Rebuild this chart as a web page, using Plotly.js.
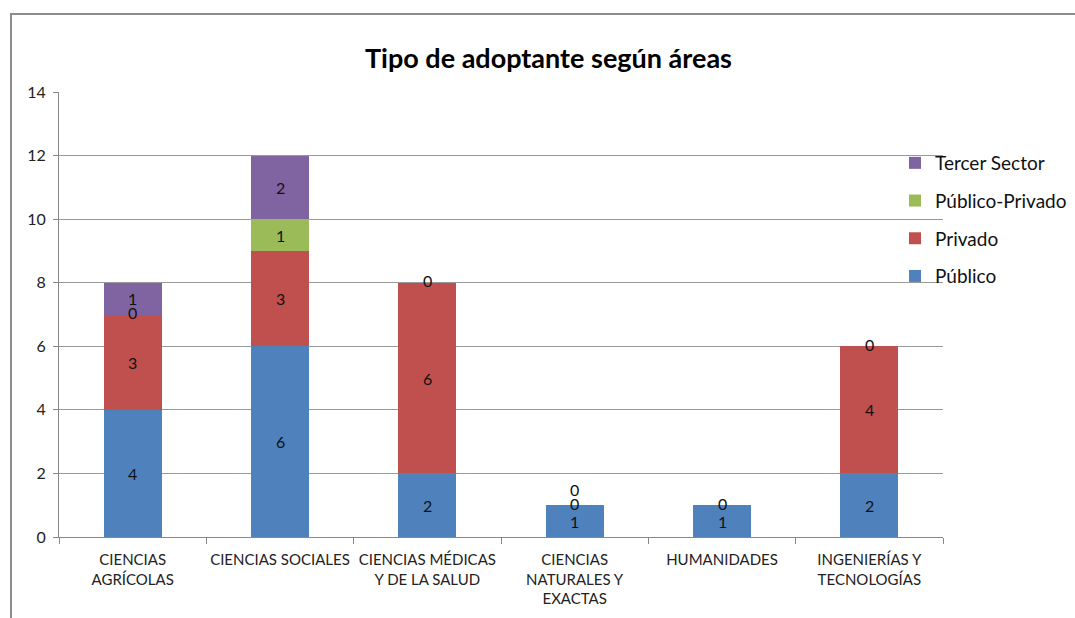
<!DOCTYPE html>
<html>
<head>
<meta charset="utf-8">
<script src="https://cdn.plot.ly/plotly-3.0.1.min.js"></script>
<style>
  html, body { margin: 0; padding: 0; background: #fff; }
  #wrap { position: relative; width: 1075px; height: 618px; }
  #chart { width: 1075px; height: 618px; }
  #frame { position: absolute; left: 10px; top: 13px; right: 0; bottom: 0;
           border-left: 2px solid #8c8c8c; border-top: 2px solid #8c8c8c; pointer-events: none; }
</style>
</head>
<body>
<div id="wrap"><div id="chart"></div><div id="frame"></div></div>
<script>
const categories = ["CIENCIAS<br>AGRÍCOLAS", "CIENCIAS SOCIALES", "CIENCIAS MÉDICAS<br>Y DE LA SALUD",
                    "CIENCIAS<br>NATURALES Y<br>EXACTAS", "HUMANIDADES", "INGENIERÍAS Y<br>TECNOLOGÍAS"];
const publico      = [4, 6, 2, 1, 1, 2];
const privado      = [3, 3, 6, 0, 0, 4];
const publicoPriv  = [0, 1, 0, 0, null, 0];
const tercerSector = [1, 2, null, null, null, null];

const seriesNames  = ["Público", "Privado", "Público-Privado", "Tercer Sector"];
const seriesValues = [publico, privado, publicoPriv, tercerSector];
const seriesColors = ["#4F81BD", "#C0504D", "#9BBB59", "#8064A2"];

const font = "Lato, 'Open Sans', sans-serif";

const traces = seriesValues.map((vals, i) => ({
  type: "bar",
  name: seriesNames[i],
  x: categories,
  y: vals,
  marker: { color: seriesColors[i] },
  legendrank: seriesNames.length - i,
  legendgroup: "g" + i,
  hoverinfo: "name+y"
}));

// data labels positioned from the stacked data
const annotations = [];
categories.forEach((c, ci) => {
  let base = 0;
  let zerosHere = 0;
  seriesValues.forEach((vals) => {
    const v = vals[ci];
    if (v === null || v === undefined) return;
    let yshift = 0;
    if (v === 0) { yshift = 2 + 14 * zerosHere; zerosHere++; }
    annotations.push({
      x: c, y: base + v / 2, xref: "x", yref: "y",
      text: String(v), showarrow: false, yshift: yshift,
      font: { family: font, size: 16, color: "#111" }
    });
    base += v;
  });
});

annotations.push({
  xref: "paper", yref: "paper", x: (548 - 59) / (943 - 59), y: 1 + (92 - 58) / 445,
  xanchor: "center", yanchor: "middle", showarrow: false,
  text: "<b>Tipo de adoptante según áreas</b>",
  font: { family: font, size: 27, color: "#000" }
});

const layout = {
  width: 1075, height: 618,
  margin: { l: 59, r: 132, t: 92, b: 81, autoexpand: false },
  paper_bgcolor: "#fff", plot_bgcolor: "#fff",
  barmode: "stack",
  bargap: 0.605,
  showlegend: true,
  legend: {
    x: (895 - 59) / (943 - 59), xanchor: "left", y: 1 - (144 - 92) / 445, yanchor: "top",
    traceorder: "grouped", tracegroupgap: 10,
    font: { family: font, size: 19, color: "#111" },
    itemwidth: 30, bgcolor: "rgba(0,0,0,0)"
  },
  xaxis: {
    type: "category", tickson: "boundaries", ticks: "outside", ticklen: 6,
    tickcolor: "#888", showline: true, linecolor: "#888", linewidth: 1,
    tickangle: 0, ticklabelstandoff: 9,
    showgrid: false, tickfont: { family: font, size: 15, color: "#222" }, fixedrange: true
  },
  yaxis: {
    range: [0, 14], dtick: 2, ticks: "outside", ticklen: 5, tickcolor: "#888",
    showline: true, linecolor: "#888", linewidth: 1,
    showgrid: true, gridcolor: "#999", gridwidth: 1, zeroline: false,
    ticklabelstandoff: 4,
    tickfont: { family: font, size: 16, color: "#222" }, fixedrange: true
  },
  annotations: annotations
};

Plotly.newPlot("chart", traces, layout, { displayModeBar: false, staticPlot: true });
</script>
</body>
</html>
